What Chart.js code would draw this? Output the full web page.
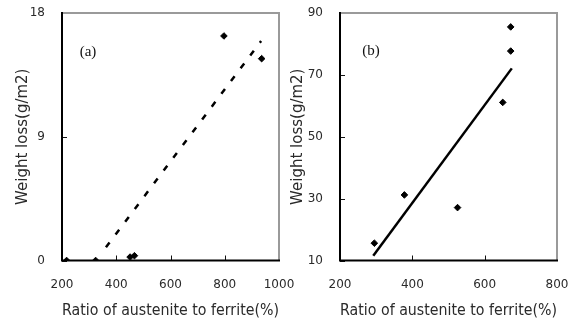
<!DOCTYPE html>
<html><head><meta charset="utf-8">
<script src="https://cdn.jsdelivr.net/npm/chart.js@4.4.1/dist/chart.umd.min.js"></script>
<style>
html,body{margin:0;padding:0;background:#fff;width:572px;height:322px;overflow:hidden}
#wa{position:absolute;left:0;top:0;width:300px;height:322px}
#wb{position:absolute;left:286px;top:0;width:286px;height:322px}
</style></head><body>
<div id="wa"><canvas id="ca"></canvas></div>
<div id="wb"><canvas id="cb"></canvas></div>
<script>
const xTitle = 'Ratio of austenite to ferrite(%)';
const yTitle = 'Weight loss(g/m2)';

// panel (a)
const aRatio = [217, 324, 451, 467, 797, 936];
const aLoss = [0, 0, 0.25, 0.35, 16.33, 14.68];
const aTrendRatio = [362, 934];
const aTrendLoss = [0.96, 15.96];
const aXTicks = [200, 400, 600, 800, 1000];
const aYTicks = [0, 9, 18];
const aTag = '(a)';

// panel (b)
const bRatio = [295, 378, 525, 650, 672, 672];
const bLoss = [15.6, 31.2, 27.1, 61.1, 77.7, 85.5];
const bTrendRatio = [292, 675];
const bTrendLoss = [11.5, 72.1];
const bXTicks = [200, 400, 600, 800];
const bYTicks = [10, 30, 50, 70, 90];
const bTag = '(b)';

const TXT = '#2a2a2a';
const tickFont = {family: 'DejaVu Sans', size: 12};
const titleFont = {family: 'DejaVu Sans', size: 15};

const framePlugin = {
  id: 'frame',
  beforeDatasetsDraw(chart) {
    const {ctx, chartArea: a, scales} = chart;
    ctx.save();
    ctx.strokeStyle = '#111';
    ctx.lineWidth = 1;
    scales.x.ticks.forEach(t => {
      const px = Math.round(scales.x.getPixelForValue(t.value)) + 0.5;
      ctx.beginPath(); ctx.moveTo(px, a.bottom); ctx.lineTo(px, a.bottom - 5); ctx.stroke();
    });
    scales.y.ticks.forEach(t => {
      const py = Math.round(scales.y.getPixelForValue(t.value)) + 0.5;
      ctx.beginPath(); ctx.moveTo(a.left, py); ctx.lineTo(a.left + 5, py); ctx.stroke();
    });
    ctx.strokeStyle = '#9a9a9a';
    ctx.lineWidth = 2;
    ctx.beginPath();
    ctx.moveTo(a.left, a.top); ctx.lineTo(a.right, a.top); ctx.lineTo(a.right, a.bottom);
    ctx.stroke();
    ctx.strokeStyle = '#000';
    ctx.lineWidth = 2;
    ctx.beginPath();
    ctx.moveTo(a.left, a.top - 1); ctx.lineTo(a.left, a.bottom); ctx.lineTo(a.right + 1, a.bottom);
    ctx.stroke();
    ctx.restore();
  },
  afterDatasetsDraw(chart, args, opts) {
    const {ctx, scales} = chart;
    ctx.save();
    ctx.font = '15px "Liberation Serif"';
    ctx.fillStyle = '#111';
    ctx.textAlign = 'center';
    ctx.textBaseline = 'middle';
    ctx.fillText(opts.text, scales.x.getPixelForValue(opts.x), scales.y.getPixelForValue(opts.y));
    ctx.restore();
  }
};

function pts(xs, ys) { return xs.map((x, i) => ({x: x, y: ys[i]})); }
function noPad(s) { s.paddingTop = 0; s.paddingBottom = 0; s.paddingLeft = 0; s.paddingRight = 0; }

function makeChart(id, cfg) {
  return new Chart(document.getElementById(id), {
    type: 'scatter',
    data: {
      datasets: [
        {
          data: pts(cfg.px, cfg.py),
          pointStyle: 'rectRot', pointRadius: 3.3, pointBorderWidth: 1,
          backgroundColor: '#000', borderColor: '#000', showLine: false
        },
        {
          data: pts(cfg.tx, cfg.ty),
          showLine: true, pointRadius: 0, borderColor: '#000',
          borderWidth: 2.5, borderDash: cfg.dash, borderCapStyle: 'butt', fill: false
        }
      ]
    },
    options: {
      responsive: true, maintainAspectRatio: false, animation: false,
      layout: {autoPadding: false, padding: {top: 13, right: cfg.padR, left: 0, bottom: 0}},
      plugins: {legend: {display: false}, tooltip: {enabled: false},
        frame: {text: cfg.tag, x: cfg.tagX, y: cfg.tagY}},
      scales: {
        x: {
          type: 'linear', min: cfg.xt[0], max: cfg.xt[cfg.xt.length - 1],
          afterBuildTicks: s => { s.ticks = cfg.xt.map(v => ({value: v})); },
          afterFit: s => { s.height = 61.5; noPad(s); },
          grid: {display: false, drawTicks: false}, border: {display: false},
          ticks: {font: tickFont, color: TXT, padding: 17, maxRotation: 0, autoSkip: false,
            callback: v => String(v)},
          title: {display: true, text: xTitle, font: titleFont, color: TXT, padding: {top: 0, bottom: 2}}
        },
        y: {
          type: 'linear', min: cfg.yt[0], max: cfg.yt[cfg.yt.length - 1],
          afterBuildTicks: s => { s.ticks = cfg.yt.map(v => ({value: v})); },
          afterFit: s => { s.width = cfg.yw; noPad(s); },
          grid: {display: false, drawTicks: false}, border: {display: false},
          ticks: {font: tickFont, color: TXT, padding: 17, autoSkip: false,
            callback: v => String(v)},
          title: {display: true, text: yTitle, font: titleFont, color: TXT, padding: {top: cfg.ytp, bottom: 0}}
        }
      }
    },
    plugins: [framePlugin]
  });
}

makeChart('ca', {px: aRatio, py: aLoss, tx: aTrendRatio, ty: aTrendLoss, xt: aXTicks, yt: aYTicks,
  dash: [6, 10], padR: 21, yw: 62, ytp: 14, tag: aTag, tagX: 296, tagY: 15.16});
makeChart('cb', {px: bRatio, py: bLoss, tx: bTrendRatio, ty: bTrendLoss, xt: bXTicks, yt: bYTicks,
  dash: [], padR: 15, yw: 54, ytp: 3, tag: bTag, tagX: 286, tagY: 77.7});
</script>
</body></html>
